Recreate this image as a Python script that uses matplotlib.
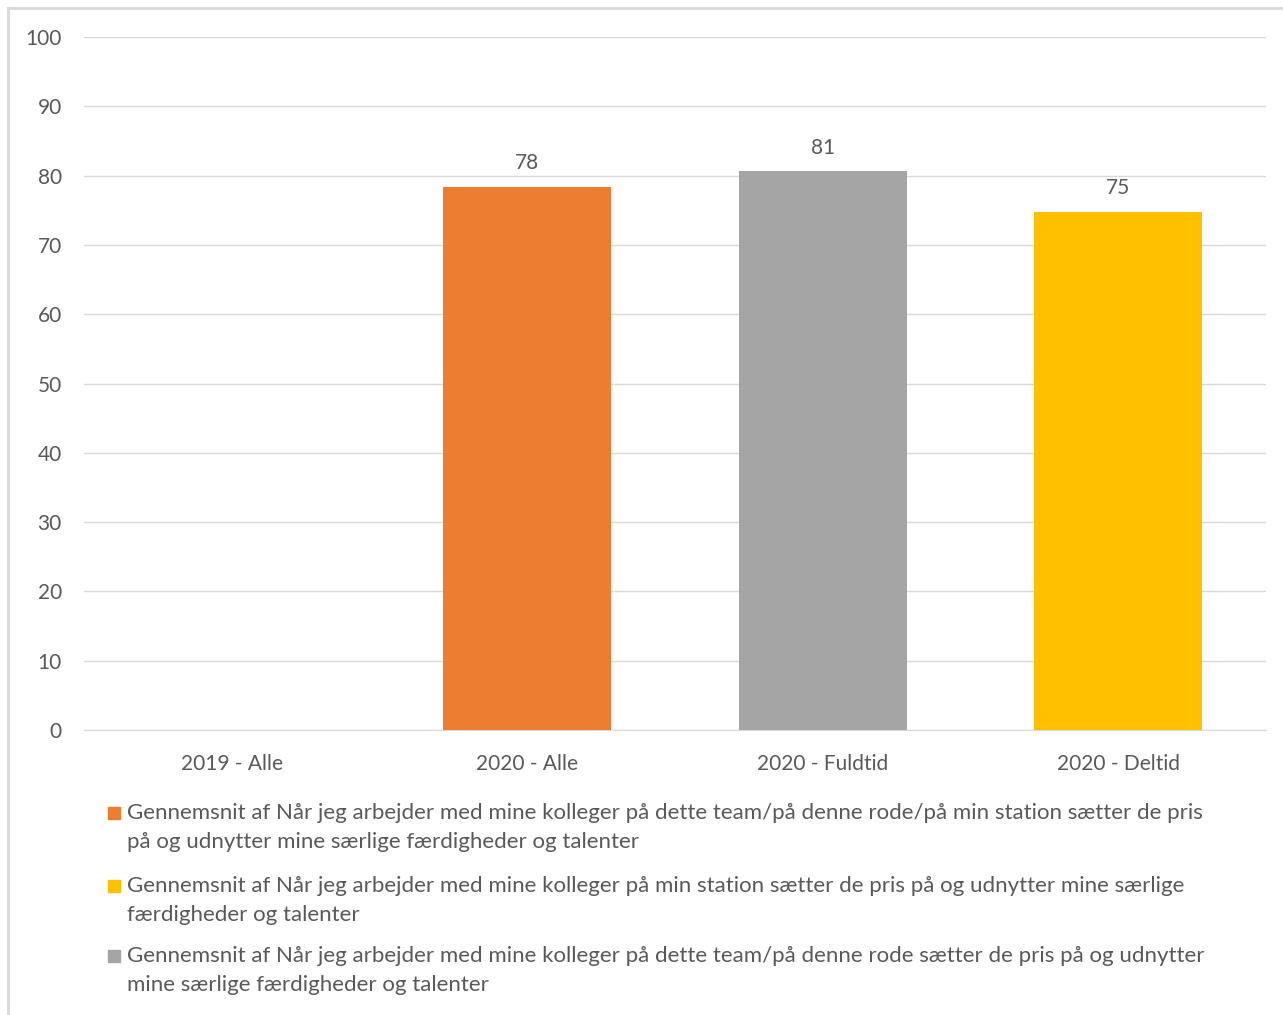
import matplotlib
matplotlib.use("Agg")
import matplotlib.pyplot as plt
from matplotlib.patches import Rectangle
from matplotlib.lines import Line2D

# data
categories = ["2019 - Alle", "2020 - Alle", "2020 - Fuldtid", "2020 - Deltid"]
values = [None, 78.4, 80.6, 74.7]
bar_colors = ["#ED7D31", "#ED7D31", "#A5A5A5", "#FFC000"]

legend_labels = [
    "Gennemsnit af Når jeg arbejder med mine kolleger på dette team/på denne rode/på min station sætter de pris\npå og udnytter mine særlige færdigheder og talenter",
    "Gennemsnit af Når jeg arbejder med mine kolleger på min station sætter de pris på og udnytter mine særlige\nfærdigheder og talenter",
    "Gennemsnit af Når jeg arbejder med mine kolleger på dette team/på denne rode sætter de pris på og udnytter\nmine særlige færdigheder og talenter",
]
legend_colors = ["#ED7D31", "#FFC000", "#A5A5A5"]

plt.rcParams["font.family"] = ["Lato", "DejaVu Sans"]
text_col = "#595959"
W, H = 1283, 1015

fig = plt.figure(figsize=(W / 100, H / 100), dpi=100)
ax = fig.add_axes([84/W, 1-730/H, (1266-84)/W, (730-37)/H])

for i, v in enumerate(values):
    if v is None:
        continue
    ax.bar(i, v, width=0.57, color=bar_colors[i], zorder=3)
    ax.text(i, v + 2.0, "%d" % round(v), ha="center", va="bottom",
            fontsize=15, color=text_col)

ax.set_xlim(-0.5, 3.5)
ax.set_ylim(0, 100)
ax.set_yticks(range(0, 101, 10))
ax.set_xticks(range(len(categories)))
ax.set_xticklabels(categories)
ax.tick_params(axis="both", length=0, labelsize=15, colors=text_col)
ax.tick_params(axis="x", pad=17)
ax.tick_params(axis="y", pad=16)
ax.yaxis.grid(True, color="#D9D9D9", linewidth=1)
ax.set_axisbelow(True)
for s in ["left", "right", "top"]:
    ax.spines[s].set_visible(False)
ax.spines["bottom"].set_color("#D9D9D9")

# legend drawn by hand so the wrapped lines get the right spacing
first_line = [813, 886, 956]
for lab, col, y in zip(legend_labels, legend_colors, first_line):
    fig.add_artist(Rectangle((108/W, 1-(y+6)/H), 12/W, 12/H, color=col,
                             transform=fig.transFigure))
    fig.text(127/W, 1-(y+14.5)/H, lab, ha="left", va="center", fontsize=16,
             color=text_col, linespacing=1.58)

# outer frame of the chart area
fig.add_artist(Line2D([8/W, 8/W], [0, 1-8/H], color="#D9D9D9", lw=2))
fig.add_artist(Line2D([8/W, 1], [1-8/H, 1-8/H], color="#D9D9D9", lw=2))

fig.savefig("out.png", dpi=100)
